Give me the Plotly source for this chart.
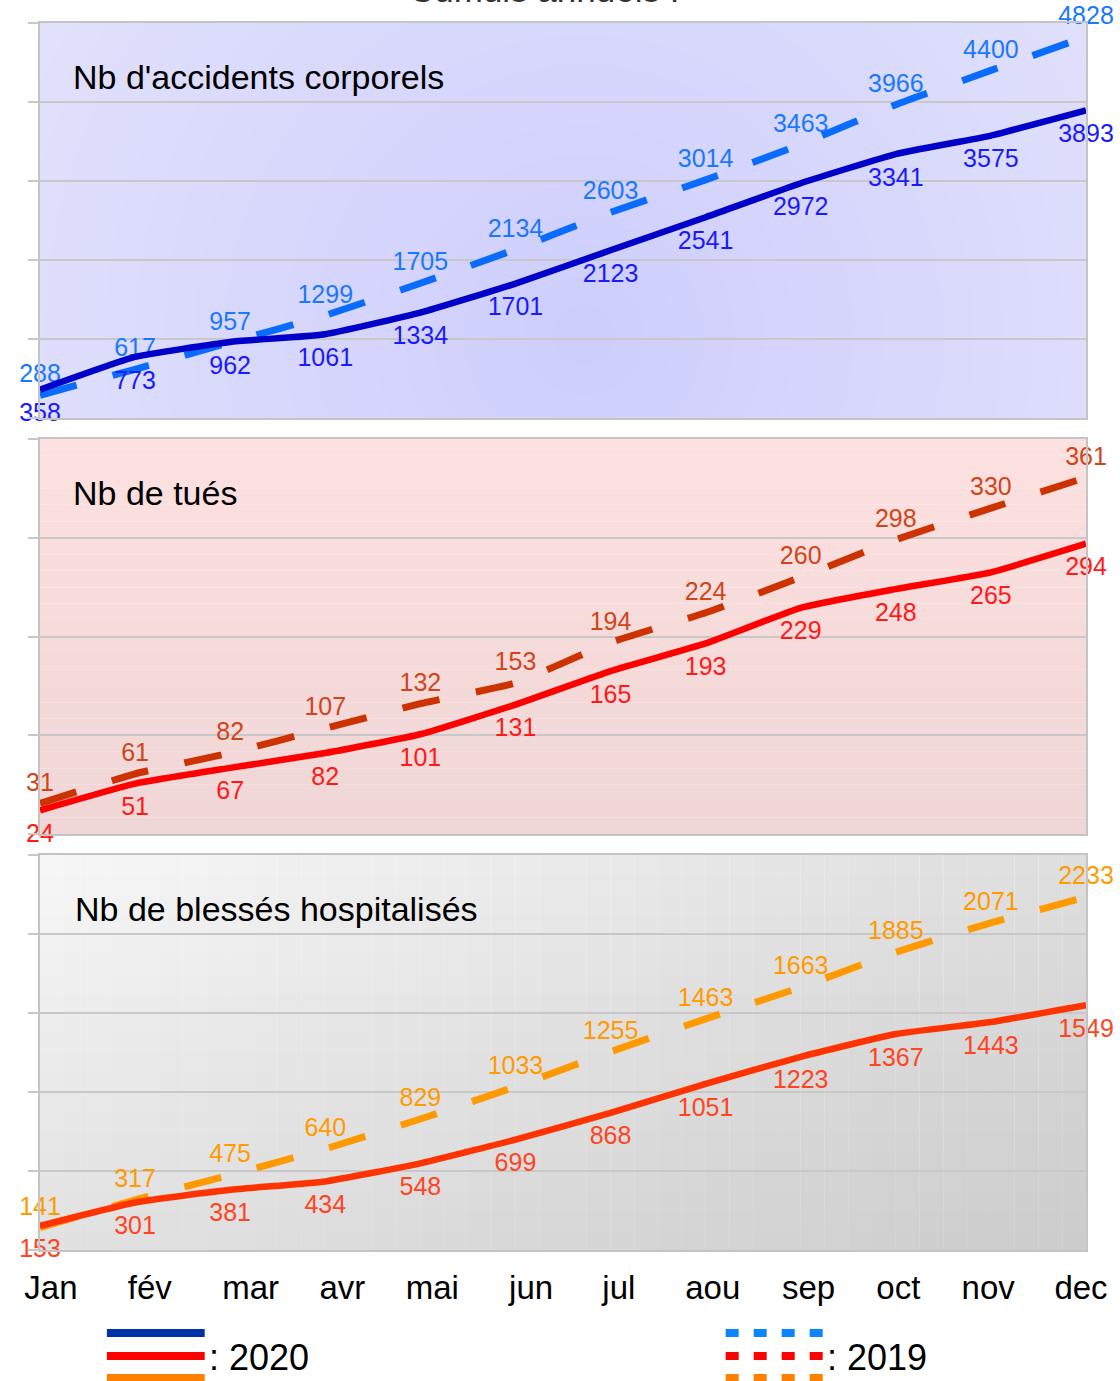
import plotly.graph_objects as go

months = ["Jan", "fév", "mar", "avr", "mai", "jun", "jul", "aou", "sep", "oct", "nov", "dec"]

acc_2020 = [358, 773, 962, 1061, 1334, 1701, 2123, 2541, 2972, 3341, 3575, 3893]
acc_2019 = [288, 617, 957, 1299, 1705, 2134, 2603, 3014, 3463, 3966, 4400, 4828]
tues_2020 = [24, 51, 67, 82, 101, 131, 165, 193, 229, 248, 265, 294]
tues_2019 = [31, 61, 82, 107, 132, 153, 194, 224, 260, 298, 330, 361]
bles_2020 = [153, 301, 381, 434, 548, 699, 868, 1051, 1223, 1367, 1443, 1549]
bles_2019 = [141, 317, 475, 640, 829, 1033, 1255, 1463, 1663, 1885, 2071, 2233]

panel_titles = ["Nb d'accidents corporels", "Nb de tués", "Nb de blessés hospitalisés"]

FONT = "Liberation Sans, Arial, sans-serif"
W, H = 1120, 1381
ML, MR, MT, MB = 40, 32, 23, 131
PW, PH = W - ML - MR, H - MT - MB

def py(p):  # page pixel y -> paper y
    return (H - MB - p) / PH

def px(p):
    return (p - ML) / PW

panels = [  # (top px, bottom px, ymax, dtick)
    (23, 418, 5000, 1000),
    (439, 834, 400, 100),
    (855, 1250, 2500, 500),
]

fig = go.Figure()

series = [
    (acc_2019, acc_2020, "#0a6cff", "#1a78ff", "#0000c8", "#1a1aff"),
    (tues_2019, tues_2020, "#cc3300", "#d0451a", "#ff0000", "#ff1a1a"),
    (bles_2019, bles_2020, "#ff9900", "#ff9a00", "#ff3300", "#ff4422"),
]
x = list(range(12))

for i, (s19, s20, c19, t19, c20, t20) in enumerate(series):
    ax = "" if i == 0 else str(i + 1)
    fig.add_trace(go.Scatter(
        x=x, y=s19, xaxis="x" + ax, yaxis="y" + ax, mode="lines+markers+text",
        line=dict(color=c19, width=7, dash="38px,37px", shape="spline", smoothing=0.4),
        marker=dict(size=9, color="rgba(0,0,0,0)"),
        text=[str(v) for v in s19], textposition="top center",
        textfont=dict(family=FONT, size=25, color=t19),
        cliponaxis=False, showlegend=False, hoverinfo="skip"))
    fig.add_trace(go.Scatter(
        x=x, y=s20, xaxis="x" + ax, yaxis="y" + ax, mode="lines+markers+text",
        line=dict(color=c20, width=6.5, shape="spline", smoothing=0.4),
        marker=dict(size=19, color="rgba(0,0,0,0)"),
        text=[str(v) for v in s20], textposition="bottom center",
        textfont=dict(family=FONT, size=25, color=t20),
        cliponaxis=False, showlegend=False, hoverinfo="skip"))

layout = dict(
    width=W, height=H, margin=dict(l=ML, r=MR, t=MT, b=MB),
    paper_bgcolor="white", plot_bgcolor="rgba(0,0,0,0)",
    font=dict(family=FONT, color="black"),
)
GRID = "#c8c8c8"
for i, (top, bot, ymax, dt) in enumerate(panels):
    ax = "" if i == 0 else str(i + 1)
    layout["xaxis" + ax] = dict(
        domain=[0, 1], range=[0, 11], anchor="y" + ax, showgrid=False, zeroline=False,
        showline=True, mirror=True, linecolor="#c4c4c4", linewidth=2,
        showticklabels=(i == 2), fixedrange=True)
    layout["yaxis" + ax] = dict(
        domain=[py(bot), py(top)], range=[0, ymax], dtick=dt, anchor="x" + ax,
        showticklabels=False, showgrid=True, gridcolor=GRID, gridwidth=1.5, zeroline=False,
        showline=True, mirror=True, linecolor="#c4c4c4", linewidth=2,
        ticks="outside", ticklen=10, tickcolor=GRID, tickwidth=1.5, fixedrange=True)

# month label centres (page pixels) -> axis units
XPX = PW / 11.0
label_px = [51, 150, 251, 343, 433, 532, 620, 714, 810, 900, 990, 1083]
layout["xaxis3"].update(
    tickvals=[(p - ML) / XPX for p in label_px], ticktext=months,
    tickfont=dict(family=FONT, size=33, color="black"),
    ticks="outside", ticklen=7, tickcolor="rgba(0,0,0,0)")

fig.update_layout(**layout)

# ---- background gradients (style only) ----
shapes = []

def lerp(c1, c2, t):
    return "rgb(%d,%d,%d)" % tuple(round(a + (b - a) * t) for a, b in zip(c1, c2))

# panel 1: radial lavender
ypx1 = 395 / 5000
edge1, cen1 = (228, 228, 252), (205, 205, 253)
shapes.append(dict(type="rect", xref="x", yref="y", x0=0, x1=11, y0=0, y1=5000,
                   fillcolor=lerp(cen1, edge1, 1), line_width=0, layer="below"))
cx, cy = (585 - 40) / XPX, (418 - 335) / ypx1
NR = 24
for k in range(NR, 0, -1):
    r = 720 * k / NR
    shapes.append(dict(type="circle", xref="x", yref="y",
                       x0=cx - r / XPX, x1=cx + r / XPX, y0=cy - r / ypx1, y1=cy + r / ypx1,
                       fillcolor=lerp(cen1, edge1, k / NR), line_width=0, layer="below"))
# panel 2: vertical pink
N2 = 24
for k in range(N2):
    shapes.append(dict(type="rect", xref="x2", yref="y2", x0=0, x1=11,
                       y0=400 - 400 * (k + 1) / N2, y1=400 - 400 * k / N2,
                       fillcolor=lerp((253, 224, 224), (240, 214, 214), k / (N2 - 1)),
                       line_width=0, layer="below"))
# panel 3: diagonal gray
N3 = 44
for k in range(N3):
    shapes.append(dict(type="rect", xref="x3", yref="y3", x0=11 * k / N3, x1=11 * (k + 1) / N3,
                       y0=0, y1=2500,
                       fillcolor=lerp((246, 246, 246), (222, 222, 222), k / (N3 - 1)),
                       line_width=0, layer="below"))
N3b = 20
for k in range(N3b):
    shapes.append(dict(type="rect", xref="x3", yref="y3", x0=0, x1=11,
                       y0=2500 - 2500 * (k + 1) / N3b, y1=2500 - 2500 * k / N3b,
                       fillcolor="rgba(0,0,0,%.4f)" % (0.08 * k / (N3b - 1)),
                       line_width=0, layer="below"))

# ---- custom legend ----
leg_rows = [1333, 1356, 1378]
left_cols = ["#0033aa", "#ff0000", "#ff8000"]
right_cols = ["#0a84ff", "#ff0000", "#ff8000"]
for yy, cl, cr in zip(leg_rows, left_cols, right_cols):
    shapes.append(dict(type="line", xref="paper", yref="paper", x0=px(107), x1=px(205),
                       y0=py(yy), y1=py(yy), line=dict(color=cl, width=8)))
    shapes.append(dict(type="line", xref="paper", yref="paper", x0=px(727), x1=px(825),
                       y0=py(yy), y1=py(yy), line=dict(color=cr, width=8, dash="13px,15px")))
fig.update_layout(shapes=shapes)

ann = []
for i, t in enumerate(panel_titles):
    ax = "" if i == 0 else str(i + 1)
    ann.append(dict(text=t, xref="x" + ax + " domain" if ax else "x domain",
                    yref=("y" + ax + " domain") if ax else "y domain",
                    x=(71 - 40) / PW if i < 2 else (73 - 40) / PW, y=1 - 54 / 395,
                    xanchor="left", yanchor="middle", showarrow=False,
                    font=dict(family=FONT, size=34, color="black")))
ann.append(dict(text=": 2020", xref="paper", yref="paper", x=px(207), y=py(1357),
                xanchor="left", yanchor="middle", showarrow=False,
                font=dict(family=FONT, size=36, color="black")))
ann.append(dict(text=": 2019", xref="paper", yref="paper", x=px(826), y=py(1357),
                xanchor="left", yanchor="middle", showarrow=False,
                font=dict(family=FONT, size=36, color="black")))
ann.append(dict(text="Cumuls annuels :", xref="paper", yref="paper", x=px(545), y=1,
                xanchor="center", yanchor="bottom", yshift=12, showarrow=False,
                font=dict(family=FONT, size=35, color="#333333")))
fig.update_layout(annotations=ann)

fig.write_html("out.html", config={"displayModeBar": False},
               post_script="document.body.style.margin='0';document.body.style.overflow='hidden';")
